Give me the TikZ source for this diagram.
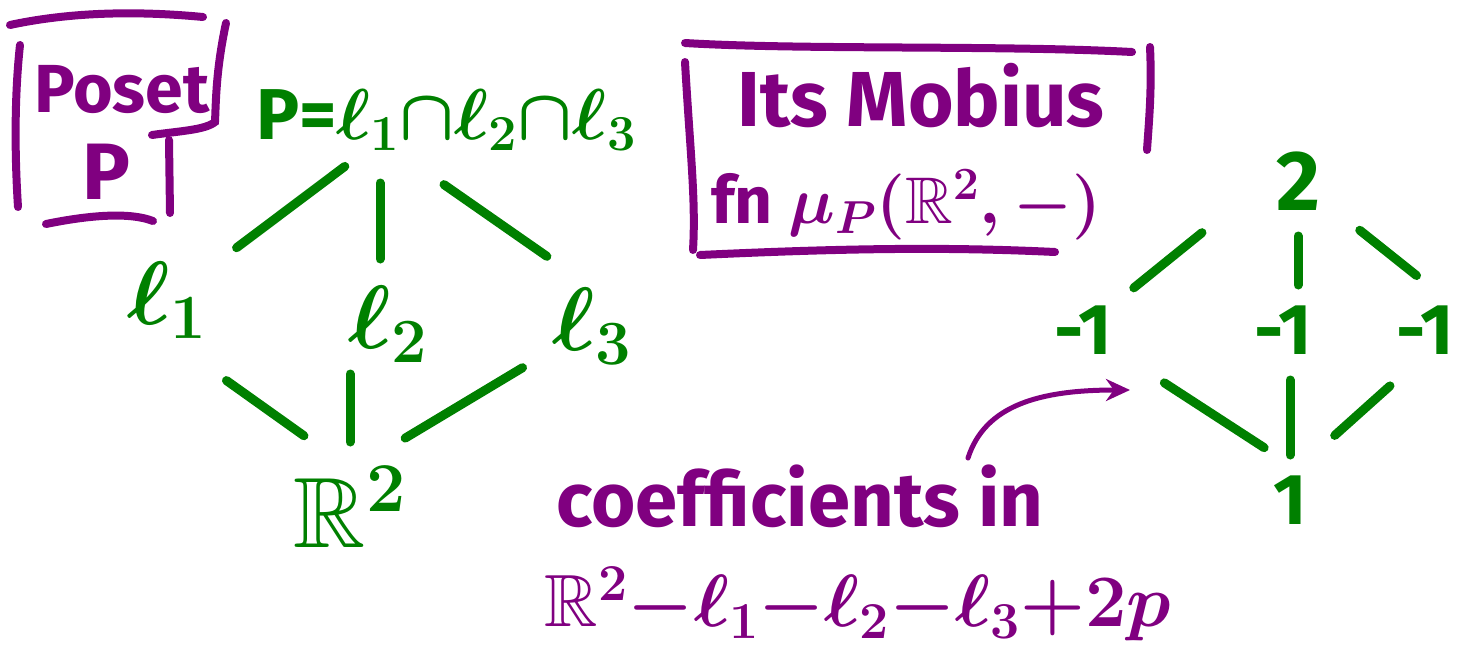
\RequirePackage{fix-cm}
\documentclass[tikz,border=0pt]{standalone}
\usepackage{amsmath,amssymb}
\usepackage{fontspec}
\setmainfont{Fira Sans}
\definecolor{inkgreen}{HTML}{008000}
\definecolor{inkpurple}{HTML}{800080}
\usetikzlibrary{arrows.meta,calc}
\newcommand{\handsize}[1]{\fontsize{#1}{#1}\selectfont\bfseries\boldmath}

\begin{document}
\begin{tikzpicture}[x=1pt, y=-1pt,
  glbl/.style={inner sep=0pt, text=inkgreen},
  plbl/.style={inner sep=0pt, text=inkpurple},
  edge/.style={inkgreen, line width=9pt, line cap=round},
  pen/.style={inkpurple, line width=8pt, line cap=round}]

\useasboundingbox (0,0) rectangle (1469,653);

% === LEFT: the poset P ===
\node[plbl, font=\handsize{68}] (poset) at (122,90) {Poset};
\node[plbl, font=\handsize{80}] (posetP) at (106,172) {P};

\draw[pen] (10,25) .. controls (80,10) and (150,12) .. (203,17);
\draw[pen] (20,45) .. controls (14,100) and (15,160) .. (18,207);
\draw[pen] (226,23) .. controls (216,70) and (216,100) .. (215,122)
  .. controls (205,130) and (180,131) .. (152,135);
\draw[pen] (169,140) -- (170,213);
\draw[pen] (46,224) .. controls (90,215) and (130,212) .. (153,221);

\node[glbl, font=\handsize{72}] (top) at (446,120)
  {P=$\ell_1{\cap}\ell_2{\cap}\ell_3$};
\node[glbl, font=\handsize{90}] (l1) at (167,300) {$\ell_1$};
\node[glbl, font=\handsize{90}] (l2) at (388,324) {$\ell_2$};
\node[glbl, font=\handsize{90}] (l3) at (592,326) {$\ell_3$};
\node[glbl, font=\handsize{100}] (rtwo) at (350,507) {$\mathbb{R}^2$};

\coordinate (topv) at (380,140);
\coordinate (botv) at (352,470);

\draw[edge, shorten <=87pt, shorten >=44pt] (l1.center) -- (topv);
\draw[edge, shorten <=65pt, shorten >=43pt] (topv |- l2) -- (topv);
\draw[edge, shorten <=55pt, shorten >=78pt] (l3.north) -- (topv);
\draw[edge, shorten <=73pt, shorten >=59pt] (l1.south) -- (botv);
\draw[edge, shorten <=50pt, shorten >=65pt] (rtwo |- l2) -- (rtwo.center);
\draw[edge, shorten <=81pt, shorten >=62pt] (l3.center) -- (botv);

% === RIGHT: its Mobius function ===
\node[plbl, font=\handsize{78}] (mobtitle) at (921,96) {Its Mobius};
\node[plbl, font=\handsize{66}] (mobfn) at (906,205)
  {fn $\mu_P(\mathbb{R}^2,-)$};

\draw[pen] (685,43) .. controls (800,50) and (1000,45) .. (1132,52);
\draw[pen] (685,62) .. controls (690,150) and (696,200) .. (693,250);
\draw[pen] (700,255) .. controls (850,248) and (950,247) .. (1055,252);
\draw[pen] (1150,47) .. controls (1152,90) and (1149,120) .. (1147,150);

\node[glbl, font=\handsize{85}] (two) at (1298,181) {2};
\node[glbl, font=\handsize{72}] (ma) at (1083,330) {-1};
\node[glbl, font=\handsize{72}] (mb) at (1283,330) {-1};
\node[glbl, font=\handsize{72}] (mc) at (1425,330) {-1};
\node[glbl, font=\handsize{72}] (one) at (1290,500) {1};

\draw[edge, shorten <=28pt, shorten >=95pt] (ma.north east) -- (two.160);
\draw[edge, shorten <=55pt, shorten >=45pt] (two.center) -- (two |- mb);
\draw[edge, shorten <=79pt, shorten >=48pt] (two.center) -- (mc.north east);
\draw[edge, shorten <=97pt, shorten >=51pt] (ma.center) -- (one.north east);
\draw[edge, shorten <=50pt, shorten >=45pt] (one |- mb) -- (one.center);
\draw[edge, shorten <=47pt, shorten >=60pt] (mc.south) -- (one.north);

% === BOTTOM: the coefficients ===
\node[plbl, font=\handsize{76}] (coeff) at (800,496) {coefficients in};
\node[plbl, font=\handsize{74}] (coefsum) at (858,604)
  {$\mathbb{R}^2{-}\ell_1{-}\ell_2{-}\ell_3{+}2p$};

\coordinate (tail) at (968,458);
\coordinate (tip) at (1130,390);
\draw[inkpurple, line width=5pt, line cap=round,
  -{Stealth[length=24pt, width=22pt]}]
  (tail) .. controls (985,405) and (1040,390) .. (tip);

\end{tikzpicture}
\end{document}
